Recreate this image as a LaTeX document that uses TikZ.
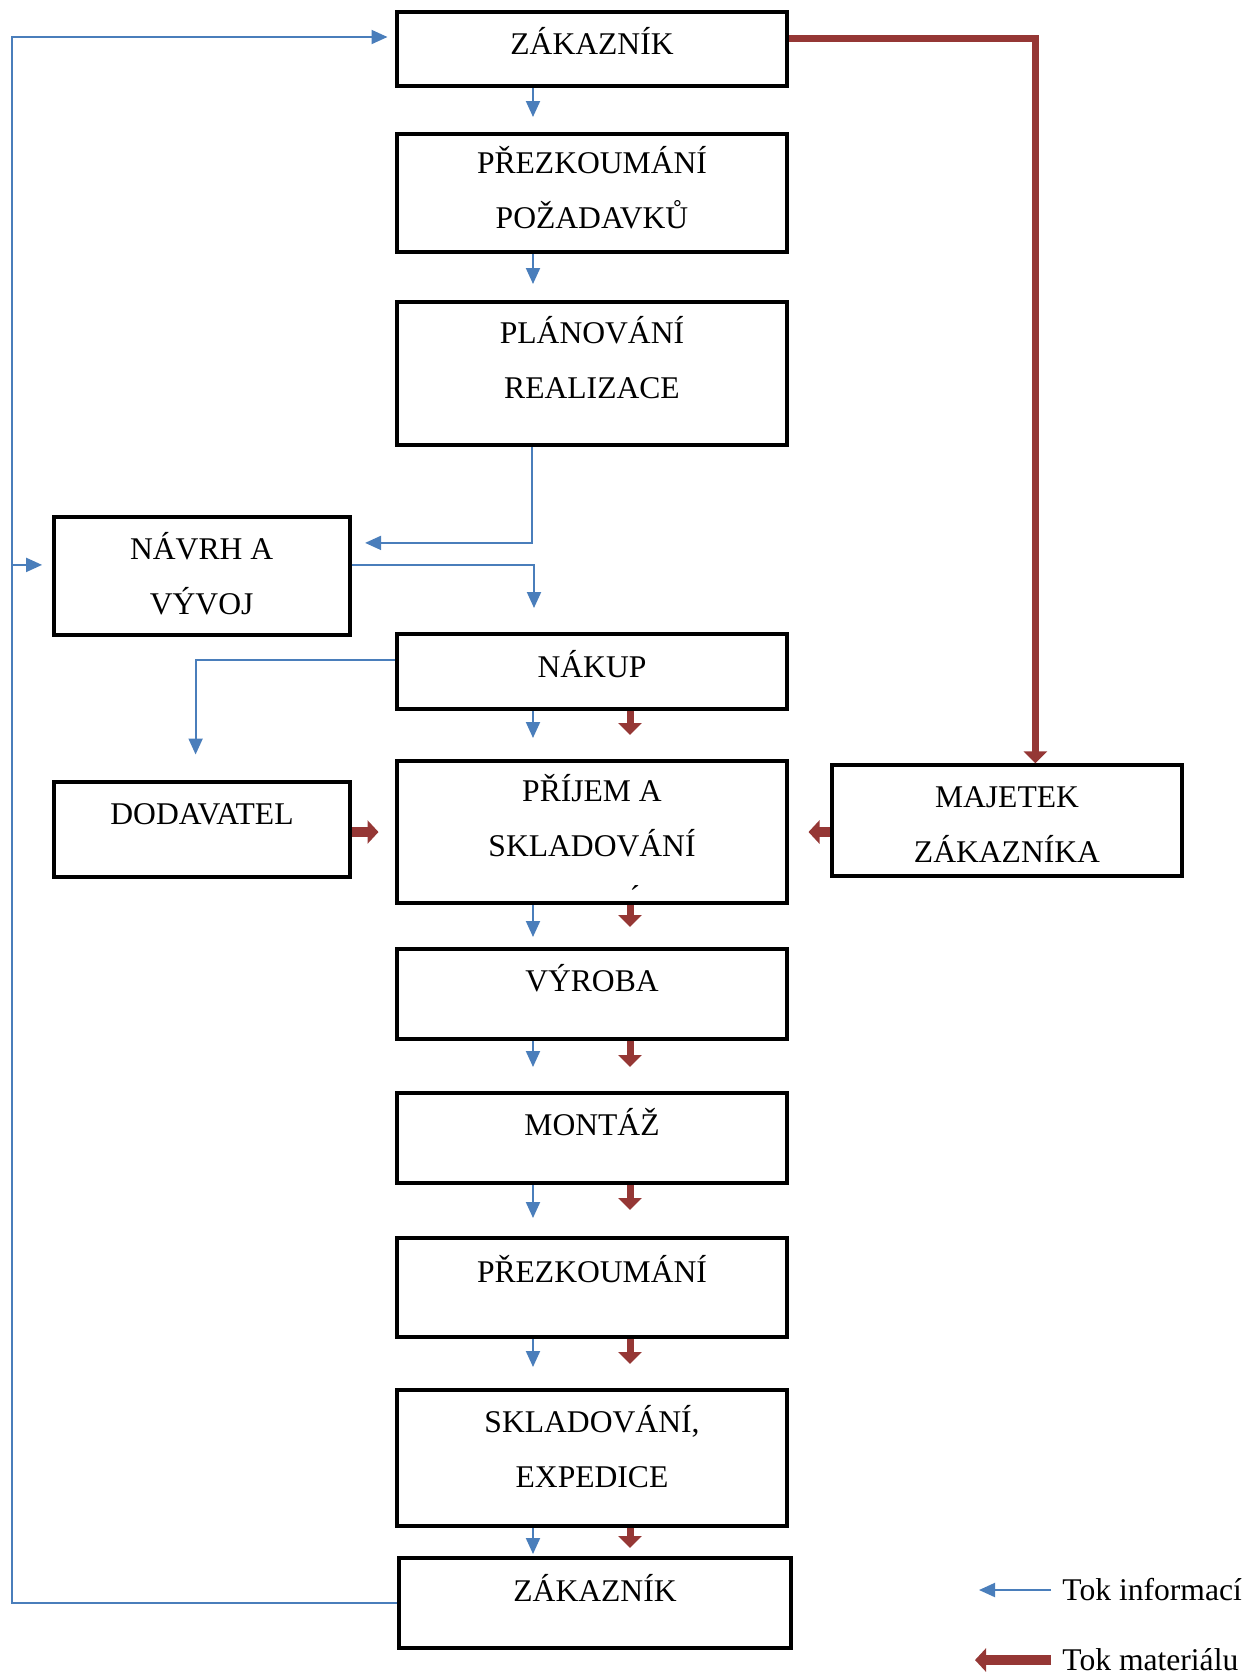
\documentclass[tikz,border=0pt]{standalone}
\usepackage{fontspec}
\setmainfont{Liberation Serif}
\usepackage{xcolor}
\usepackage{tikz}
\usetikzlibrary{arrows.meta, positioning}

\definecolor{infoblue}{RGB}{74,126,187}
\definecolor{matred}{RGB}{149,55,53}

\tikzset{
    box/.style={draw, rectangle, line width=2pt, minimum width=195pt, align=center, text height=11pt, font=\fontsize{15.8}{27.5}\selectfont},
    legend/.style={anchor=west, inner sep=0pt, font=\fontsize{15.8}{19}\selectfont},
    info/.style={draw=infoblue, line width=1pt, -{Triangle[width=7pt,length=8pt]}},
    mat/.style={draw=matred, line width=3.5pt, -{Triangle[width=11.5pt,length=6pt]}},
    matside/.style={draw=matred, line width=5pt, -{Triangle[width=11.5pt,length=5.5pt]}}
}

\begin{document}
\begin{tikzpicture}
    \useasboundingbox (0,0) rectangle (625pt,-838.5pt);

    % Main column
    \node[box, minimum height=37pt, text depth=5.6pt] (zak1) at (296pt,-24.5pt) {ZÁKAZNÍK};
    \node[box, minimum height=59pt, text height=35.9pt, text depth=0pt, below=22pt of zak1] (prez) {PŘEZKOUMÁNÍ\\POŽADAVKŮ};
    \node[box, minimum height=71.5pt, text height=25pt, text depth=0pt, below=23pt of prez] (plan) {PLÁNOVÁNÍ\\REALIZACE};
    \node[box, minimum height=37.5pt, text depth=5.1pt, below=92.5pt of plan] (nakup) {NÁKUP};
    \node[box, minimum height=71pt, text height=24.4pt, text depth=0pt, below=24pt of nakup] (prijem) {PŘÍJEM A\\SKLADOVÁNÍ\rlap{\hspace*{-33pt}\raisebox{-25.3pt}[0pt][0pt]{´}}};
    \node[box, minimum height=45pt, text depth=13.1pt, below=21pt of prijem] (vyroba) {VÝROBA};
    \node[box, minimum height=45pt, text depth=13.4pt, below=25pt of vyroba] (montaz) {MONTÁŽ};
    \node[box, minimum height=49.5pt, text depth=15.9pt, below=25.5pt of montaz] (prezk) {PŘEZKOUMÁNÍ};
    \node[box, minimum height=68pt, text height=29.9pt, text depth=0pt, below=24.5pt of prezk] (expedice) {SKLADOVÁNÍ,\\EXPEDICE};
    \node[box, minimum width=196pt, minimum height=45pt, text depth=12.4pt, below=14pt of expedice, xshift=1.5pt] (zak2) {ZÁKAZNÍK};

    % Side boxes
    \node[box, minimum width=148pt, minimum height=59pt, text height=38pt, text depth=0pt] (navrh) at (100.8pt,-288.2pt) {NÁVRH A\\VÝVOJ};
    \node[box, minimum width=148pt, minimum height=47.5pt, text depth=15.4pt, left=21.5pt of prijem, yshift=1.5pt] (dodavatel) {DODAVATEL};
    \node[box, minimum width=175pt, minimum height=55.5pt, text height=41.7pt, text depth=0pt, right=20.5pt of prijem, yshift=5.6pt] (majetek) {MAJETEK\\ZÁKAZNÍKA};

    % Legend
    \node[legend] (leginfo) at (531pt,-795pt) {Tok informací};
    \node[legend] (legmat) at (531pt,-830pt) {Tok materiálu};
    \draw[info] ([xshift=-5.5pt]leginfo.west) -- ([xshift=-41.5pt]leginfo.west);
    \draw[matside] ([xshift=-5.5pt]legmat.west) -- ([xshift=-43.5pt]legmat.west);

    % Information flow
    \foreach \i/\j/\s in {zak1/prez/7.5pt, prez/plan/8pt, nakup/prijem/10.5pt, prijem/vyroba/5pt, vyroba/montaz/12pt, montaz/prezk/9pt, prezk/expedice/10.5pt, expedice/zak2/1pt}
        \draw[info, shorten >=\s] ([xshift=-29.5pt]\i.south) -- ([xshift=-29.5pt]\i.south |- \j.north);
    \draw[info, shorten >=6.75pt] ([xshift=-30pt]plan.south) |- ([yshift=16.75pt]navrh.east);
    \draw[info, shorten >=12pt] ([yshift=5.75pt]navrh.east) -| ([xshift=-29pt]nakup.north);
    \draw[info, shorten >=12.5pt] ([yshift=5.75pt]nakup.west) -| ([xshift=-3.2pt]dodavatel.north);

    % Feedback loop
    \coordinate (loop) at (6pt,-18.5pt);
    \coordinate (navrhin) at ([yshift=5.75pt]navrh.west);
    \draw[info, shorten >=3.75pt] (zak2.west) -| (loop) -- (zak1.west |- loop);
    \draw[info, shorten >=4.75pt] (loop |- navrhin) -- (navrhin);

    % Material flow
    \foreach \i/\j/\s in {nakup/prijem/12pt, prijem/vyroba/10pt, vyroba/montaz/12pt, montaz/prezk/13pt, prezk/expedice/12pt, expedice/zak2/4pt}
        \draw[mat, shorten >=\s] ([xshift=19pt]\i.south) -- ([xshift=19pt]\i.south |- \j.north);
    \draw[mat] ([yshift=5.5pt]zak1.east) -| ([xshift=14.2pt]majetek.north);
    \draw[matside, shorten >=8.25pt] (dodavatel.east |- prijem) -- (prijem.west);
    \draw[matside, shorten >=9.75pt] (majetek.west |- prijem) -- (prijem.east);

\end{tikzpicture}
\end{document}
